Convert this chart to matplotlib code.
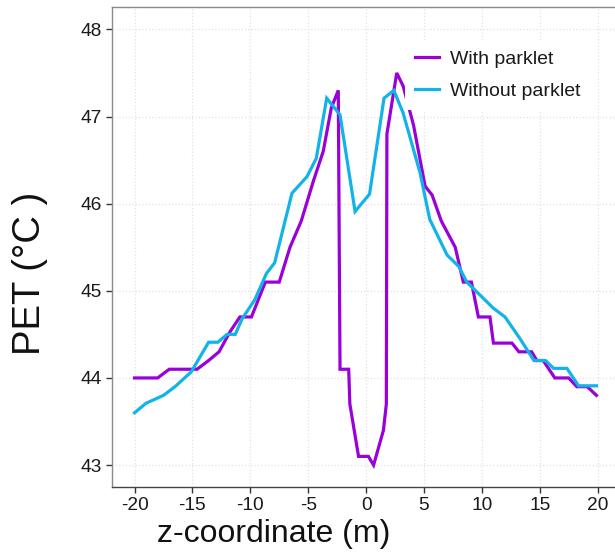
import matplotlib
matplotlib.use("Agg")
import matplotlib.pyplot as plt

plt.rcParams['font.family'] = ['Liberation Sans', 'DejaVu Sans']
plt.rcParams['axes.unicode_minus'] = False

# Data
with_x = [-20, -18, -17, -14.6, -13.6, -12.7, -11.75, -10.9, -9.9, -8.7, -7.5, -6.57,
          -5.6, -4.55, -3.7, -3.0, -2.4, -2.25, -1.5, -1.4, -0.65, 0.2, 0.65, 1.5,
          1.75, 1.8, 2.65, 3.2, 4.1, 5.1, 5.7, 6.5, 7.7, 8.4, 9.1, 9.7, 10.7, 11.0,
          12.6, 13.2, 14.3, 14.75, 15.3, 16.3, 17.5, 18.2, 19.1, 19.9]
with_y = [44.0, 44.0, 44.1, 44.1, 44.2, 44.3, 44.53, 44.7, 44.7, 45.1, 45.1, 45.5,
          45.8, 46.26, 46.6, 47.1, 47.3, 44.1, 44.1, 43.7, 43.1, 43.1, 43.0, 43.4,
          43.7, 46.8, 47.5, 47.35, 46.9, 46.2, 46.1, 45.8, 45.5, 45.1, 45.1, 44.7, 44.7, 44.4,
          44.4, 44.3, 44.3, 44.2, 44.2, 44.0, 44.0, 43.9, 43.9, 43.8]

without_x = [-20, -19, -17.5, -16.5, -15.1, -13.6, -12.8, -12.0, -11.3, -10.7, -9.6,
             -8.6, -7.9, -6.4, -5.1, -4.3, -3.4, -2.25, -0.95, 0.3, 1.55, 2.4, 3.2,
             4.67, 5.5, 7.0, 8.0, 8.7, 11.0, 12.0, 13.3, 14.5, 15.5, 16.2, 17.35,
             18.35, 19.9]
without_y = [43.6, 43.71, 43.8, 43.9, 44.07, 44.41, 44.41, 44.5, 44.5, 44.68, 44.9,
             45.2, 45.32, 46.12, 46.31, 46.52, 47.21, 47.02, 45.91, 46.11, 47.21, 47.3, 47.04,
             46.35, 45.82, 45.41, 45.28, 45.1, 44.8, 44.7, 44.45, 44.2, 44.2, 44.11, 44.11,
             43.91, 43.91]

x_ticks = [-20, -15, -10, -5, 0, 5, 10, 15, 20]
y_ticks = [43, 44, 45, 46, 47, 48]
labels = ["With parklet", "Without parklet"]
colors = ["#9a00d8", "#12b4e8"]

fig = plt.figure(figsize=(6.15, 5.59), dpi=100)
ax = fig.add_axes([0.182, 0.129, 0.818, 0.859])

ax.plot(with_x, with_y, color=colors[0], lw=2.3, label=labels[0], solid_joinstyle='miter')
ax.plot(without_x, without_y, color=colors[1], lw=2.3, label=labels[1], solid_joinstyle='miter')

ax.set_xlim(-21.95, 21.5)
ax.set_ylim(42.75, 48.26)
ax.set_xticks(x_ticks)
ax.set_yticks(y_ticks)
ax.tick_params(axis='both', labelsize=13.8, colors='#333333', labelcolor='#1a1a1a',
               length=4, width=1, direction='out', pad=3)

ax.grid(True, color='#e2e2e2', linestyle=':', linewidth=0.9)
ax.set_axisbelow(True)

for s in ['left', 'top']:
    ax.spines[s].set_color('#8a8a8a')
    ax.spines[s].set_linewidth(1.0)
ax.spines['bottom'].set_color('#444444')
ax.spines['bottom'].set_linewidth(1.0)
ax.spines['right'].set_visible(False)

ax.set_xlabel("z-coordinate (m)", fontsize=23, color='#111111')
ax.xaxis.set_label_coords(0.322, -0.066)
ax.set_ylabel("PET (°C )", fontsize=27.5, color='#111111')
ax.yaxis.set_label_coords(-0.127, 0.444)

leg = ax.legend(loc='upper left', bbox_to_anchor=(0.583, 0.93), fontsize=14,
                frameon=True, fancybox=False, framealpha=1, edgecolor='none',
                facecolor='white', borderaxespad=0, borderpad=0.5,
                handlelength=1.25, handletextpad=0.55, labelspacing=0.75)
for t in leg.get_texts():
    t.set_color('#1a1a1a')

fig.savefig("out.png", dpi=100)
